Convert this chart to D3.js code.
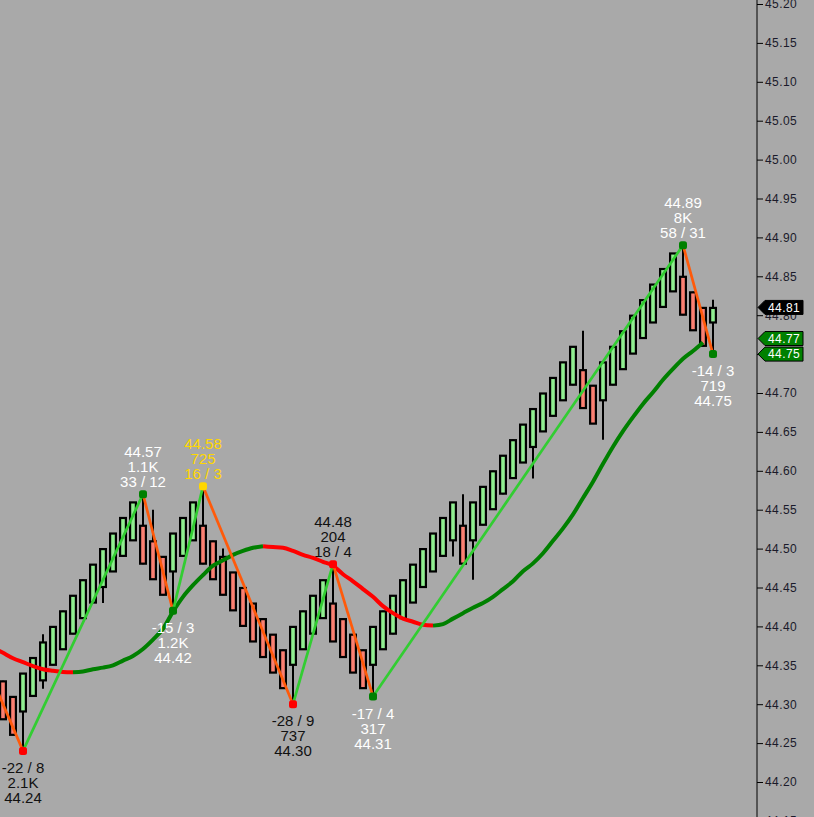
<!DOCTYPE html>
<html>
<head>
<meta charset="utf-8">
<script src="https://cdn.jsdelivr.net/npm/d3@7"></script>
<style>
  html, body { margin: 0; padding: 0; background: #a9a9a9; overflow: hidden; }
  svg { display: block; }
</style>
</head>
<body>
<div id="canvas"></div>
<script>
// bar values, one per bar (left to right)
const opens = [44.33,44.31,44.29,44.31,44.33,44.35,44.37,44.39,44.41,44.43,
  44.45,44.47,44.49,44.51,44.53,44.51,44.49,44.47,44.49,44.51,
  44.53,44.51,44.49,44.47,44.45,44.43,44.41,44.39,44.37,44.35,
  44.37,44.39,44.41,44.43,44.41,44.39,44.37,44.35,44.37,44.39,
  44.41,44.43,44.45,44.47,44.49,44.51,44.53,44.51,44.53,44.55,
  44.57,44.59,44.61,44.63,44.65,44.67,44.69,44.71,44.73,44.71,
  44.69,44.71,44.73,44.75,44.77,44.79,44.81,44.83,44.85,44.83,
  44.81,44.79];
const closes = [44.28,44.26,44.34,44.36,44.38,44.40,44.42,44.44,44.46,44.48,
  44.50,44.52,44.54,44.56,44.48,44.46,44.44,44.52,44.54,44.56,
  44.48,44.46,44.44,44.42,44.40,44.38,44.36,44.34,44.32,44.40,
  44.42,44.44,44.46,44.38,44.36,44.34,44.32,44.40,44.42,44.44,
  44.46,44.48,44.50,44.52,44.54,44.56,44.48,44.56,44.58,44.60,
  44.62,44.64,44.66,44.68,44.70,44.72,44.74,44.76,44.68,44.66,
  44.74,44.76,44.78,44.80,44.82,44.84,44.86,44.88,44.80,44.78,
  44.76,44.81];
const highs = [44.33,44.31,44.34,44.36,44.39,44.40,44.42,44.44,44.46,44.48,
  44.50,44.52,44.54,44.56,44.57,44.55,44.49,44.52,44.54,44.56,
  44.58,44.51,44.50,44.47,44.45,44.43,44.41,44.39,44.37,44.40,
  44.42,44.44,44.46,44.48,44.41,44.39,44.37,44.40,44.42,44.44,
  44.46,44.48,44.50,44.52,44.54,44.56,44.57,44.56,44.58,44.60,
  44.62,44.64,44.66,44.68,44.70,44.72,44.74,44.76,44.78,44.71,
  44.74,44.76,44.78,44.80,44.82,44.84,44.86,44.88,44.89,44.83,
  44.81,44.82];
const lows = [44.28,44.26,44.24,44.31,44.32,44.35,44.37,44.39,44.41,44.43,
  44.43,44.47,44.49,44.51,44.48,44.46,44.44,44.42,44.49,44.51,
  44.48,44.46,44.44,44.42,44.40,44.38,44.36,44.34,44.32,44.30,
  44.37,44.39,44.41,44.38,44.36,44.34,44.32,44.31,44.37,44.39,
  44.41,44.43,44.45,44.47,44.49,44.49,44.48,44.46,44.53,44.55,
  44.57,44.59,44.61,44.59,44.65,44.67,44.69,44.71,44.68,44.66,
  44.64,44.71,44.73,44.75,44.77,44.79,44.81,44.83,44.80,44.78,
  44.76,44.75];

// moving average; first value belongs to the bar just left of the view
const maFirstBar = -1;
const maValues = [44.373,
  44.366,44.359,44.354,44.349,44.345,44.343,44.3415,44.341,44.342,44.345,
  44.347,44.350,44.356,44.362,44.371,44.383,44.397,44.419,44.438,44.453,
  44.466,44.478,44.485,44.492,44.497,44.501,44.503,44.502,44.501,44.497,
  44.492,44.488,44.483,44.478,44.467,44.458,44.448,44.438,44.426,44.417,
  44.410,44.406,44.402,44.401,44.403,44.410,44.417,44.424,44.430,44.438,
  44.448,44.458,44.471,44.481,44.494,44.510,44.526,44.544,44.565,44.586,
  44.609,44.631,44.651,44.669,44.686,44.701,44.717,44.731,44.744,44.754,
  44.765];

// zigzag swing points
const pivotBars = [-1, 2, 14, 17, 20, 29, 33, 37, 68, 71];
const pivotPrices = [44.33, 44.24, 44.57, 44.42, 44.58, 44.30, 44.48, 44.31, 44.89, 44.75];
const pivotTexts = [
  null,
  ["-22 / 8", "2.1K", "44.24"],
  ["44.57", "1.1K", "33 / 12"],
  ["-15 / 3", "1.2K", "44.42"],
  ["44.58", "725", "16 / 3"],
  ["-28 / 9", "737", "44.30"],
  ["44.48", "204", "18 / 4"],
  ["-17 / 4", "317", "44.31"],
  ["44.89", "8K", "58 / 31"],
  ["-14 / 3", "719", "44.75"]
];
const pivotDotColors = [null, "#ff0000", "#008000", "#008000", "#ffd700", "#ff0000", "#ff0000", "#008000", "#008000", "#008000"];
const pivotTextColors = [null, "#111", "#fff", "#fff", "#ffd700", "#111", "#111", "#fff", "#fff", "#fff"];

// price axis
const tickValues = [44.15,44.20,44.25,44.30,44.35,44.40,44.45,44.50,44.55,44.60,44.65,
  44.70,44.75,44.80,44.85,44.90,44.95,45.00,45.05,45.10,45.15,45.20];
const tagValues = [44.81, 44.77, 44.75];
const tagColors = ["#000000", "#008000", "#008000"];

const width = 814;
const height = 817;
const axisX = 757;
const font = "Arial, 'Liberation Sans', sans-serif";

const svg = d3.select("#canvas").append("svg")
  .attr("width", width)
  .attr("height", height)
  .style("background", "#a9a9a9");

const x = d3.scaleLinear().domain([0, 71]).range([3, 713]);
const y = d3.scaleLinear().domain([44.20, 45.20]).range([782, 4]);

const plot = svg.append("g");

// wicks
plot.selectAll("line.wick").data(opens).enter().append("line")
  .attr("class", "wick")
  .attr("x1", (d, i) => x(i))
  .attr("x2", (d, i) => x(i))
  .attr("y1", (d, i) => y(highs[i]))
  .attr("y2", (d, i) => y(lows[i]))
  .attr("stroke", "#000")
  .attr("stroke-width", 2);

// bodies
plot.selectAll("rect.body").data(opens).enter().append("rect")
  .attr("class", "body")
  .attr("x", (d, i) => x(i) - 2.9)
  .attr("width", 5.8)
  .attr("y", (d, i) => y(Math.max(d, closes[i])) + 0.5)
  .attr("height", (d, i) => Math.abs(y(d) - y(closes[i])) - 1)
  .attr("fill", (d, i) => closes[i] >= d ? "#90ee90" : "#fa8072")
  .attr("stroke", "#000")
  .attr("stroke-width", 2.2);

// moving average, split in rising / falling runs
const runs = [];
let cur = null;
for (let i = 1; i < maValues.length; i++) {
  const up = maValues[i] >= maValues[i - 1];
  if (!cur || cur.up !== up) {
    cur = { up: up, pts: [i - 1] };
    runs.push(cur);
  }
  cur.pts.push(i);
}
const maLine = d3.line()
  .x(i => x(i + maFirstBar))
  .y(i => y(maValues[i]))
  .curve(d3.curveMonotoneX);
plot.selectAll("path.ma").data(runs).enter().append("path")
  .attr("class", "ma")
  .attr("d", r => maLine(r.pts))
  .attr("fill", "none")
  .attr("stroke", r => r.up ? "#008000" : "#ff0000")
  .attr("stroke-width", 4)
  .attr("stroke-linecap", "butt");

// zigzag
const legs = d3.range(pivotBars.length - 1);
plot.selectAll("line.zz").data(legs).enter().append("line")
  .attr("class", "zz")
  .attr("x1", i => x(pivotBars[i]))
  .attr("y1", i => y(pivotPrices[i]))
  .attr("x2", i => x(pivotBars[i + 1]))
  .attr("y2", i => y(pivotPrices[i + 1]))
  .attr("stroke", i => pivotPrices[i + 1] > pivotPrices[i] ? "#32cd32" : "#ff5a0a")
  .attr("stroke-width", 2.7);

const shown = d3.range(1, pivotBars.length);

plot.selectAll("rect.dot").data(shown).enter().append("rect")
  .attr("class", "dot")
  .attr("x", i => x(pivotBars[i]) - 4)
  .attr("y", i => y(pivotPrices[i]) - 4)
  .attr("width", 8)
  .attr("height", 8)
  .attr("rx", 2.5)
  .attr("fill", i => pivotDotColors[i]);

const labels = plot.selectAll("g.plabel").data(shown).enter().append("g")
  .attr("class", "plabel");
labels.each(function(i) {
  const lines = pivotTexts[i];
  const isHigh = pivotPrices[i] > pivotPrices[i - 1];
  const px = x(pivotBars[i]);
  const py = y(pivotPrices[i]);
  lines.forEach((t, j) => {
    const cy = isHigh ? py - 12.5 - (lines.length - 1 - j) * 15 : py + 17 + j * 15;
    d3.select(this).append("text")
      .attr("x", px)
      .attr("y", cy)
      .attr("dy", "0.35em")
      .attr("text-anchor", "middle")
      .attr("font-family", font)
      .attr("font-size", 15)
      .attr("fill", pivotTextColors[i])
      .text(t);
  });
});

// right price axis
svg.append("line")
  .attr("x1", axisX).attr("x2", axisX)
  .attr("y1", 0).attr("y2", height)
  .attr("stroke", "#000").attr("stroke-width", 1);

const axis = svg.append("g")
  .attr("transform", `translate(${axisX},0)`)
  .call(d3.axisRight(y).tickValues(tickValues).tickFormat(d3.format(".2f"))
    .tickSize(6).tickSizeOuter(0).tickPadding(2));
axis.select(".domain").remove();
axis.selectAll(".tick line").attr("stroke", "#000");
axis.selectAll(".tick text")
  .attr("fill", "#1a1a2a")
  .attr("font-family", font)
  .attr("font-size", 12)
  .attr("letter-spacing", "0.4px");

// current price tags
const tags = svg.selectAll("g.tag").data(tagValues).enter().append("g")
  .attr("class", "tag")
  .attr("transform", d => `translate(${axisX},${y(d)})`);
tags.append("path")
  .attr("d", "M1,0 L8,-7 L46,-7 L46,7 L8,7 Z")
  .attr("fill", (d, i) => tagColors[i])
  .attr("stroke", "#000")
  .attr("stroke-width", 1);
tags.append("text")
  .attr("x", 11)
  .attr("dy", "0.36em")
  .attr("fill", "#fff")
  .attr("font-family", font)
  .attr("font-size", 12)
  .attr("letter-spacing", "0.4px")
  .text(d => d3.format(".2f")(d));
</script>
</body>
</html>
